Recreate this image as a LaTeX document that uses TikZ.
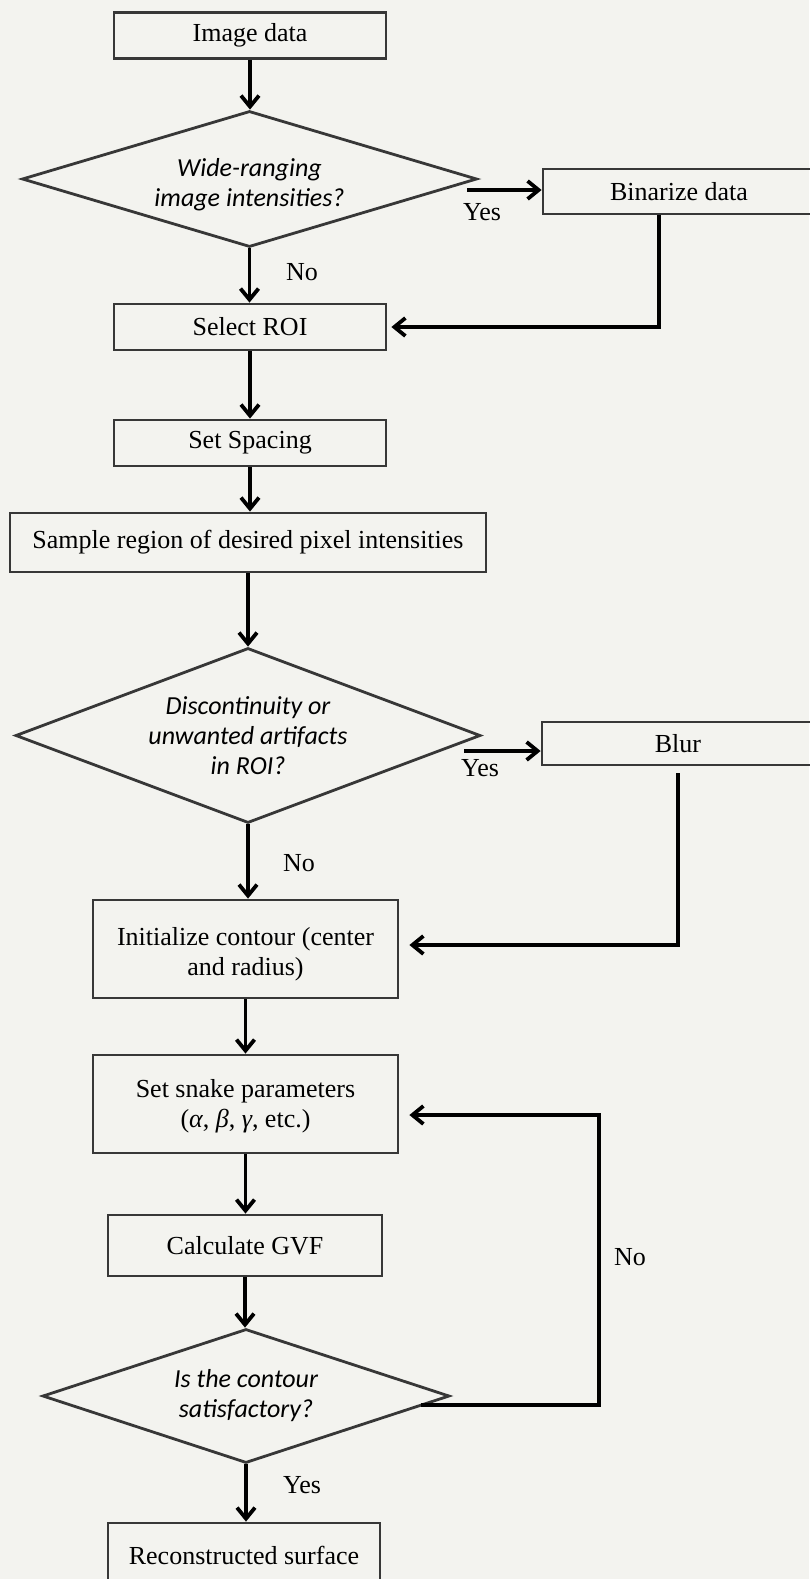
\documentclass[tikz,border=0pt]{standalone}
\usepackage{fontspec}
\setmainfont{Liberation Serif}
\newfontfamily\qfont{Carlito}
\usetikzlibrary{shapes.geometric,arrows.meta}
\definecolor{bg}{RGB}{243,243,239}
\definecolor{bd}{RGB}{55,55,55}
\newcommand\lowtext[2]{\raisebox{-#1}[\height][\depth]{\begin{tabular}{@{}c@{}}#2\end{tabular}}}
\begin{document}
\begin{tikzpicture}[x=1pt,y=-1pt,
  box/.style={draw=bd, line width=2.8pt, rectangle, inner sep=0pt, align=center, font=\fontsize{26}{30}\selectfont},
  dec/.style={draw=bd, line width=2.8pt, diamond, inner sep=0pt, align=center, font=\qfont\itshape\fontsize{26}{30}\selectfont},
  arr/.style={line width=3.8pt, -{Straight Barb[length=11pt,width=18pt]}},
  lab/.style={font=\fontsize{26}{30}\selectfont, inner sep=0pt}
]
\fill[bg] (0,0) rectangle (809,1579);
\useasboundingbox (0,0) rectangle (809,1579);

\node[box, minimum width=272pt, minimum height=46pt] (img) at (250,35.5) {Image data};
\node[dec, minimum width=455pt, minimum height=136pt, aspect=3.35] (d1) at (249.5,179) {\lowtext{6pt}{Wide-ranging\\image intensities?}};
\node[box, minimum width=272pt, minimum height=45pt] (bin) at (679,191.5) {Binarize data};
\node[box, minimum width=272pt, minimum height=46pt] (roi) at (250,327) {Select ROI};
\node[box, minimum width=272pt, minimum height=46pt] (spc) at (250,443) {Set Spacing};
\node[box, minimum width=476pt, minimum height=59pt] (smp) at (248,542.5) {Sample region of desired pixel intensities};
\node[dec, minimum width=465pt, minimum height=175pt, aspect=2.66] (d2) at (248,735.5) {\lowtext{3pt}{Discontinuity or\\unwanted artifacts\\in ROI?}};
\node[box, minimum width=272pt, minimum height=43pt] (blur) at (678,743.5) {Blur};
\node[box, minimum width=305pt, minimum height=98pt] (init) at (245.5,949) {\lowtext{5pt}{Initialize contour (center\\and radius)}};
\node[box, minimum width=305pt, minimum height=98pt] (snk) at (245.5,1104) {\lowtext{2pt}{Set snake parameters\\({\itshape α}, {\itshape β}, {\itshape γ}, etc.)}};
\node[box, minimum width=274pt, minimum height=61pt] (gvf) at (245,1245.5) {Calculate GVF};
\node[dec, minimum width=407pt, minimum height=134pt, aspect=3.04] (d3) at (246,1396) {Is the contour\\satisfactory?};
\node[box, minimum width=272pt, minimum height=65pt] (rec) at (244,1555.5) {Reconstructed surface};

\draw[arr] (img.south) -- (img.south |- d1.north);
\draw[arr] (d1.south) -- (d1.south |- roi.north);
\draw[arr] (roi.south) -- (roi.south |- spc.north);
\draw[arr] (spc.south) -- (spc.south |- smp.north);
\draw[arr] (smp.south) -- (smp.south |- d2.north);
\draw[arr] (d2.south) -- (d2.south |- init.north);
\draw[arr] (init.south) -- (init.south |- snk.north);
\draw[arr] (snk.south) -- (snk.south |- gvf.north);
\draw[arr] (gvf.south) -- (gvf.south |- d3.north);
\draw[arr] (d3.south) -- (d3.south |- rec.north);

\coordinate (y1) at (467,190);
\draw[arr] (y1) -- (y1 -| bin.west);
\coordinate (y2) at (464,751);
\draw[arr] (y2) -- (y2 -| blur.west);

\draw[arr, shorten >=4pt] ([xshift=-20pt]bin.south) |- (roi.east);
\draw[arr, shorten >=10pt] ([yshift=-7pt]blur.south) |- ([yshift=4pt]init.east);

\coordinate (l1) at (421,1405);
\coordinate (c3) at (599,1405);
\draw[arr, shorten >=10pt] (l1) -- (c3) |- ([yshift=-11pt]snk.east);

\node[lab] (yes1) at (482,212) {Yes};
\node[lab] (no1) at (302,272) {No};
\node[lab] (yes2) at (480,768) {Yes};
\node[lab] (no2) at (299,863) {No};
\node[lab] (no3) at (630,1257) {No};
\node[lab] (yes3) at (302,1485) {Yes};
\end{tikzpicture}
\end{document}
